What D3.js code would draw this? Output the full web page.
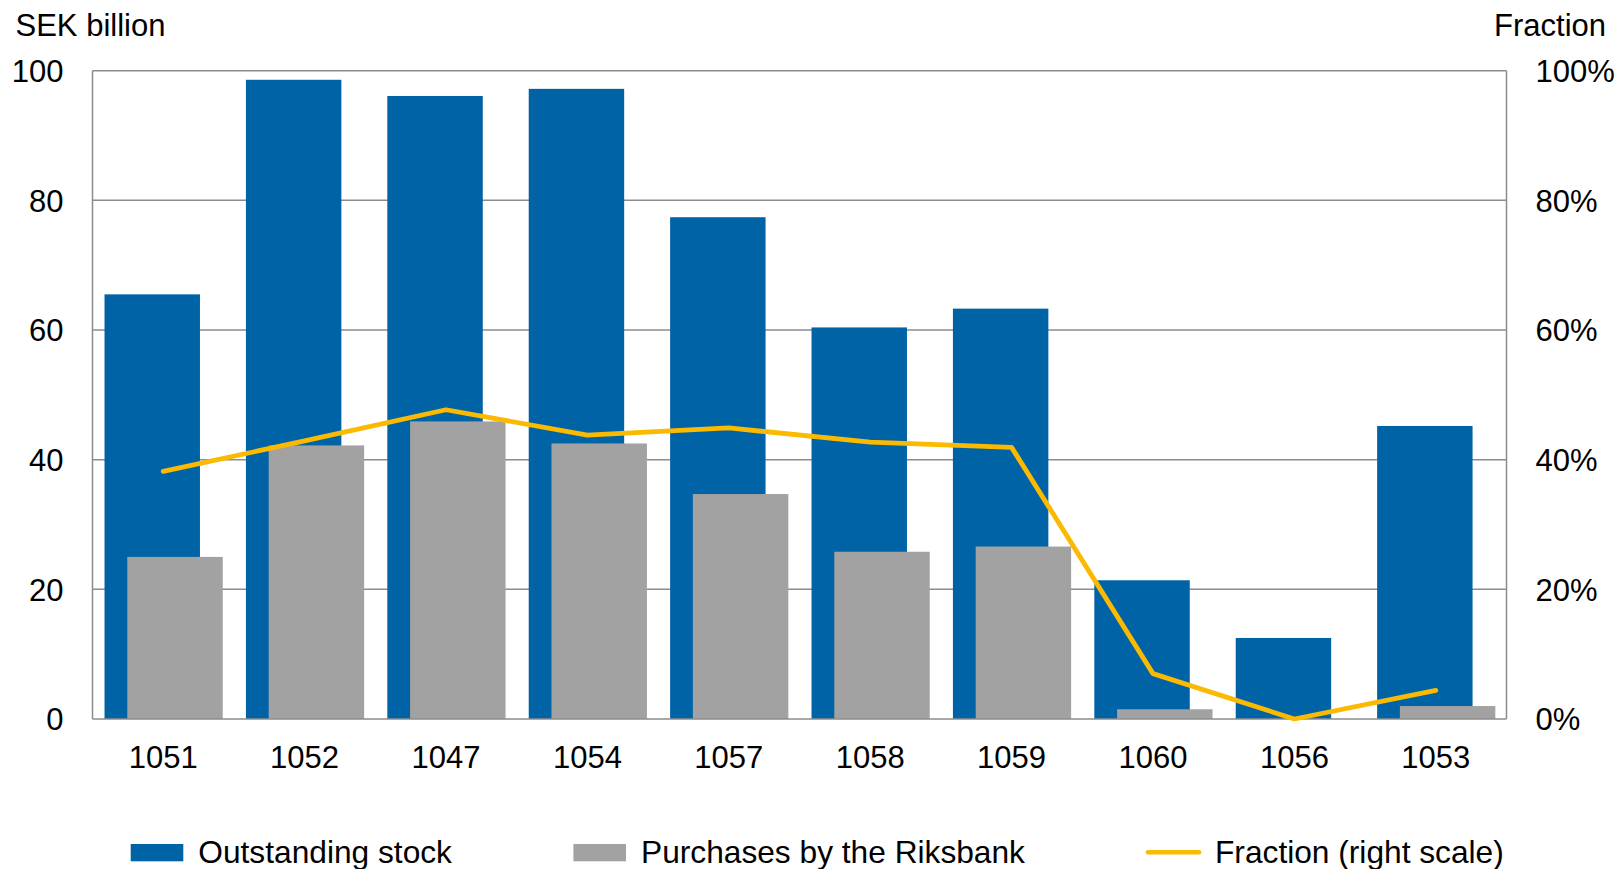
<!DOCTYPE html>
<html>
<head>
<meta charset="utf-8">
<script src="https://cdn.jsdelivr.net/npm/d3@7"></script>
<style>
  html, body { margin: 0; padding: 0; background: #fff; }
  svg { display: block; font-family: "Liberation Sans", Arial, Helvetica, sans-serif; }
</style>
</head>
<body>
<svg id="chart" width="1620" height="869"></svg>
<script>
// Bond loans (loan numbers)
const categories = ["1051", "1052", "1047", "1054", "1057", "1058", "1059", "1060", "1056", "1053"];
// Outstanding stock, SEK billion
const outstanding = [65.5, 98.6, 96.1, 97.2, 77.4, 60.4, 63.3, 21.4, 12.5, 45.2];
// Purchases by the Riksbank, SEK billion
const purchases = [25.0, 42.2, 45.9, 42.5, 34.7, 25.8, 26.6, 1.5, 0.0, 2.0];
// Fraction purchased, per cent (right scale)
const fraction = [38.2, 42.9, 47.7, 43.8, 44.9, 42.7, 41.9, 7.0, 0.0, 4.4];
const leftTicks = [0, 20, 40, 60, 80, 100];
const rightTicks = [0, 20, 40, 60, 80, 100];

const BLUE = "#0063a6", GRAY = "#a2a2a2", YELLOW = "#fbb900", GRID = "#8c8c8c";
const FS = 31, LEGEND_FS = 31.7;

const svg = d3.select("#chart");
const plot = { left: 92.5, right: 1506.5, top: 70.7, bottom: 719 };

const x = d3.scaleBand().domain(categories).range([plot.left, plot.right]).padding(0);
const yL = d3.scaleLinear().domain([0, 100]).range([plot.bottom, plot.top]);
const yR = d3.scaleLinear().domain([0, 100]).range([plot.bottom, plot.top]);
const bw = x.bandwidth();

// horizontal gridlines
svg.append("g").selectAll("line")
  .data(leftTicks.filter(d => d > 0))
  .join("line")
  .attr("x1", plot.left).attr("x2", plot.right)
  .attr("y1", d => yL(d)).attr("y2", d => yL(d))
  .attr("stroke", GRID).attr("stroke-width", 1.5);

// plot frame: left, right
svg.append("line").attr("x1", plot.left).attr("x2", plot.left)
  .attr("y1", plot.top).attr("y2", plot.bottom)
  .attr("stroke", GRID).attr("stroke-width", 1.5);
svg.append("line").attr("x1", plot.right).attr("x2", plot.right)
  .attr("y1", plot.top).attr("y2", plot.bottom)
  .attr("stroke", GRID).attr("stroke-width", 1.5);

// outstanding stock bars
svg.append("g").selectAll("rect")
  .data(categories)
  .join("rect")
  .attr("x", d => x(d) + 0.085 * bw)
  .attr("width", 0.675 * bw)
  .attr("y", (d, i) => yL(outstanding[i]))
  .attr("height", (d, i) => yL(0) - yL(outstanding[i]))
  .attr("fill", BLUE);

// purchases bars
svg.append("g").selectAll("rect")
  .data(categories)
  .join("rect")
  .attr("x", d => x(d) + 0.246 * bw)
  .attr("width", 0.675 * bw)
  .attr("y", (d, i) => yL(purchases[i]))
  .attr("height", (d, i) => yL(0) - yL(purchases[i]))
  .attr("fill", GRAY);

// zero line
svg.append("line").attr("x1", plot.left).attr("x2", plot.right)
  .attr("y1", yL(0)).attr("y2", yL(0))
  .attr("stroke", GRID).attr("stroke-width", 1.5);

// fraction line on the right scale
const line = d3.line()
  .x((d, i) => x(categories[i]) + bw / 2)
  .y(d => yR(d));
svg.append("path")
  .datum(fraction)
  .attr("d", line)
  .attr("fill", "none")
  .attr("stroke", YELLOW)
  .attr("stroke-width", 4.8)
  .attr("stroke-linejoin", "round")
  .attr("stroke-linecap", "round");

// axes
function styleAxis(g) {
  g.select(".domain").remove();
  g.selectAll("line").remove();
  g.selectAll("text").attr("font-size", FS).attr("fill", "#000")
    .attr("font-family", '"Liberation Sans", Arial, Helvetica, sans-serif');
}
svg.append("g")
  .attr("transform", `translate(${plot.left},0)`)
  .call(d3.axisLeft(yL).tickValues(leftTicks).tickSize(0).tickPadding(29).tickFormat(d3.format("d")))
  .call(styleAxis)
  .selectAll("text").attr("dy", "0.35em");

svg.append("g")
  .attr("transform", `translate(${plot.right},0)`)
  .call(d3.axisRight(yR).tickValues(rightTicks).tickSize(0).tickPadding(29).tickFormat(d => d + "%"))
  .call(styleAxis)
  .selectAll("text").attr("dy", "0.35em");

svg.append("g")
  .attr("transform", `translate(0,${plot.bottom})`)
  .call(d3.axisBottom(x).tickSize(0).tickPadding(27))
  .call(styleAxis);

// axis titles
svg.append("text").attr("x", 15.5).attr("y", 36).attr("font-size", FS)
  .text("SEK billion");
svg.append("text").attr("x", 1606).attr("y", 36).attr("font-size", FS)
  .attr("text-anchor", "end").text("Fraction");

// legend
const legend = svg.append("g");
legend.append("rect").attr("x", 130.7).attr("y", 844).attr("width", 52.6).attr("height", 17.3).attr("fill", BLUE);
legend.append("text").attr("x", 198.3).attr("y", 862.5).attr("font-size", LEGEND_FS).text("Outstanding stock");
legend.append("rect").attr("x", 573.4).attr("y", 844).attr("width", 52.6).attr("height", 17.3).attr("fill", GRAY);
legend.append("text").attr("x", 641).attr("y", 862.5).attr("font-size", LEGEND_FS).text("Purchases by the Riksbank");
legend.append("line").attr("x1", 1148).attr("x2", 1199).attr("y1", 852.3).attr("y2", 852.3)
  .attr("stroke", YELLOW).attr("stroke-width", 4.5).attr("stroke-linecap", "round");
legend.append("text").attr("x", 1215).attr("y", 862.5).attr("font-size", LEGEND_FS).text("Fraction (right scale)");
</script>
</body>
</html>
